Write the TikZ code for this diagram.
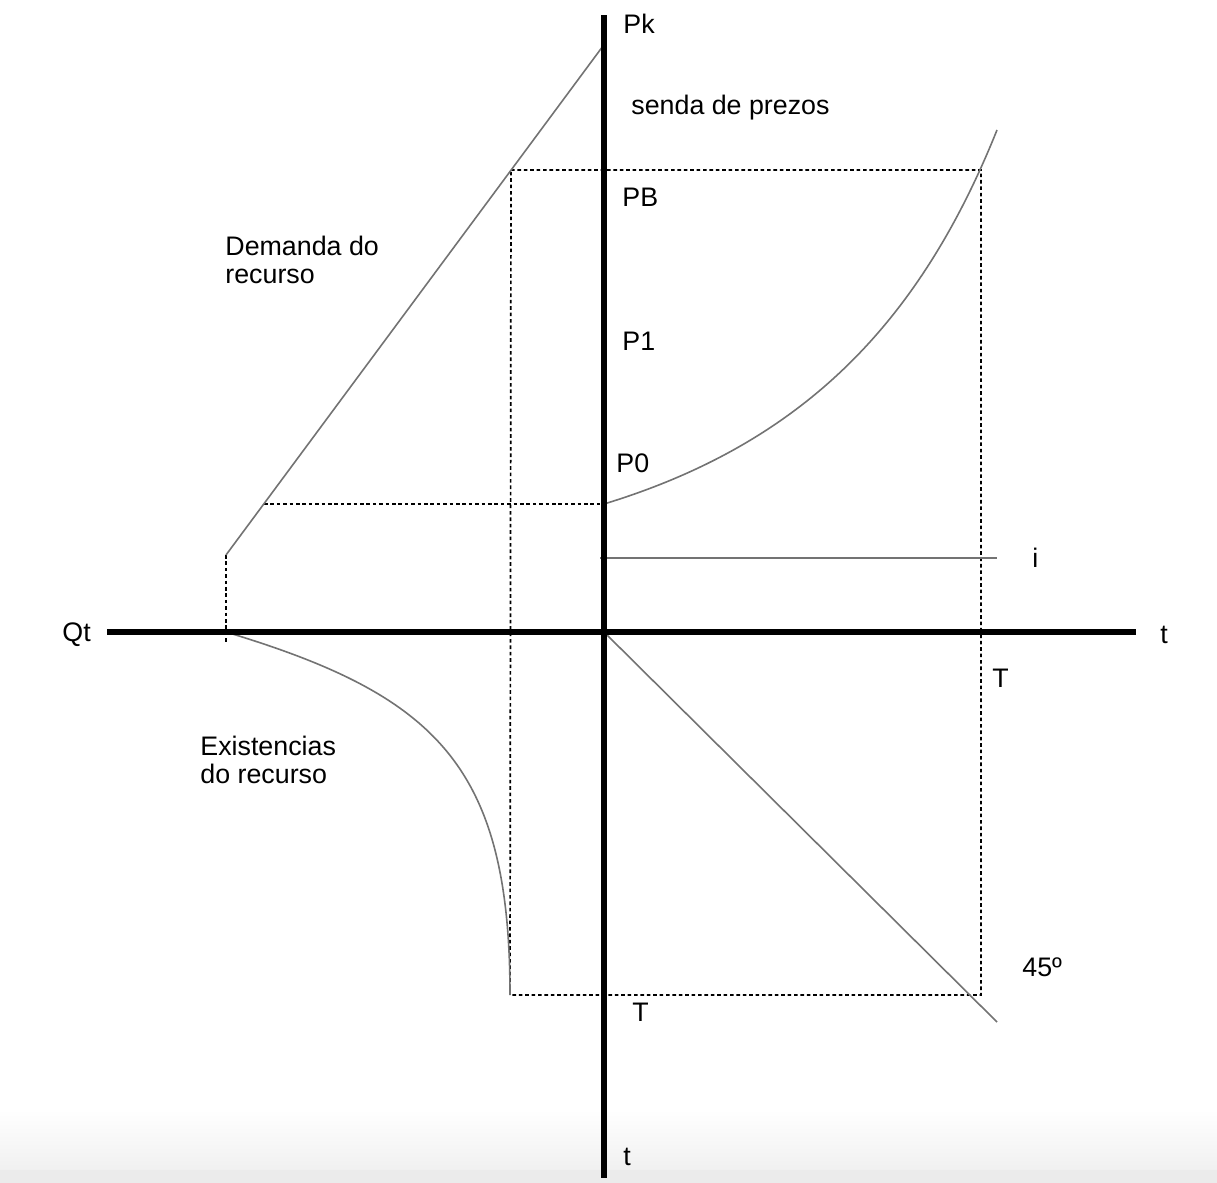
\documentclass[tikz,border=0pt]{standalone}
\usepackage{fontspec}
\setmainfont{Liberation Sans}
\definecolor{lgray}{RGB}{115,115,115}
\definecolor{bandA}{RGB}{240,240,240}
\definecolor{bandB}{RGB}{235,235,235}
\begin{document}
\begin{tikzpicture}[x=0.5pt,y=-0.5pt,
  axis/.style={line width=3pt,black},
  thin/.style={line width=0.8pt,lgray},
  dots/.style={line width=0.85pt,black,dash pattern=on 1.8pt off 1.4pt},
  lbl/.style={anchor=base west,inner sep=0pt,font=\fontsize{13.4}{16}\selectfont}]
\useasboundingbox (0,0) rectangle (1217,1183);
% bottom grey band
\shade[top color=white,bottom color=bandA] (0,1110) rectangle (1217,1170);
\fill[bandB] (0,1170) rectangle (1217,1183);

% coordinates
\coordinate (O) at (604,632);
\coordinate (vtop) at (604,15);
\coordinate (vbot) at (604,1178);
\coordinate (hleft) at (107,632);
\coordinate (hright) at (1136,632);
\coordinate (dlow) at (226,555);
\coordinate (dtop) at (603,46);
\coordinate (dP0) at (264,504);
\coordinate (P0) at (604,504);
\coordinate (dlowax) at (226,642);
\coordinate (RTL) at (511,170);
\coordinate (RTR) at (981,170);
\coordinate (RBL) at (510,995);
\coordinate (RBR) at (981,995);
\coordinate (pend) at (997,130);
\coordinate (q0) at (226,632);
\coordinate (i0) at (600,558);
\coordinate (i1) at (997,558);
\coordinate (d45) at (997,1022);

% dotted guides
\draw[dots] (RTL) -- (RTR) -- (RBR) -- (RBL) -- (RTL);
\draw[dots] (dP0) -- (P0);
\draw[dots] (dlow) -- (dlowax);

% curves and lines
\draw[thin] (dlow) -- (dtop);
\draw[thin] (P0) .. controls (804,443) and (920,322) .. (pend);
\draw[thin] (q0) .. controls (435,695) and (510,765) .. (RBL);
\draw[thin] (i0) -- (i1);
\draw[thin] (O) -- (d45);

% axes
\draw[axis] (vtop) -- (vbot);
\draw[axis] (hleft) -- (hright);

% labels
\node[lbl] (Pk) at (623,33) {Pk};
\node[lbl] (senda) at (631,114) {senda de prezos};
\node[lbl] (PB) at (622,206) {PB};
\node[lbl] (P1) at (622,350) {P1};
\node[lbl] (P0l) at (616,472) {P0};
\node[lbl] (dem) at (225,255) {Demanda do};
\node[lbl] (dem2) at (225,283) {recurso};
\node[lbl] (ex) at (200,755) {Existencias};
\node[lbl] (ex2) at (200,783) {do recurso};
\node[lbl] (Qt) at (62,641) {Qt};
\node[lbl] (tr) at (1160,643) {t};
\node[lbl] (Tr) at (992,687) {T};
\node[lbl] (il) at (1032,567) {i};
\node[lbl] (deg) at (1022,976) {45º};
\node[lbl] (Tb) at (632,1021) {T};
\node[lbl] (tb) at (623,1165) {t};
\end{tikzpicture}
\end{document}
